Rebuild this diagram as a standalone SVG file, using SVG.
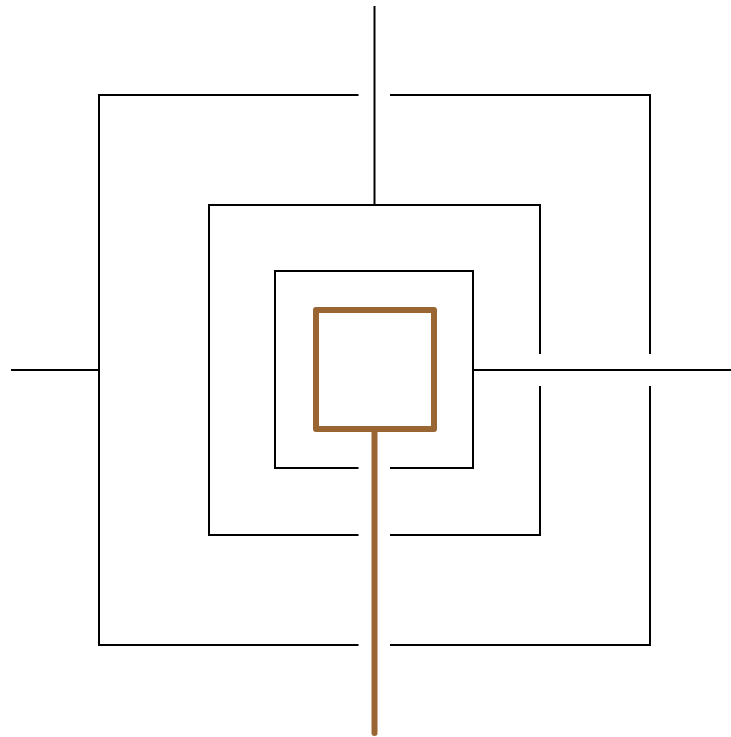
<svg xmlns="http://www.w3.org/2000/svg" width="731" height="737" viewBox="0 0 731 737">
<style>
.k{fill:none;stroke:#000;stroke-width:2}
.b{fill:none;stroke:#996633;stroke-width:6;stroke-linecap:round;stroke-linejoin:round}
</style>
<rect width="731" height="737" fill="#fff"/>
<g id="outer">
<path class="k" d="M358.5,95 H99 V645 H358.5 M390,645 H650 V386 M650,354 V95 H390"/>
</g>
<g id="middle">
<path class="k" d="M358.5,535 H209 V205 H540 V354 M540,386 V535 H390"/>
</g>
<g id="inner">
<path class="k" d="M358.5,468 H275 V271 H473 V468 H390"/>
</g>
<g id="core">
<rect class="b" x="316" y="310" width="118" height="119"/>
</g>
<g id="connectors">
<path class="k" d="M374.5,6 V205"/>
<path class="k" d="M11,370 H99"/>
<path class="k" d="M473,370 H731"/>
<path class="b" d="M374.5,429 V733"/>
</g>
</svg>
